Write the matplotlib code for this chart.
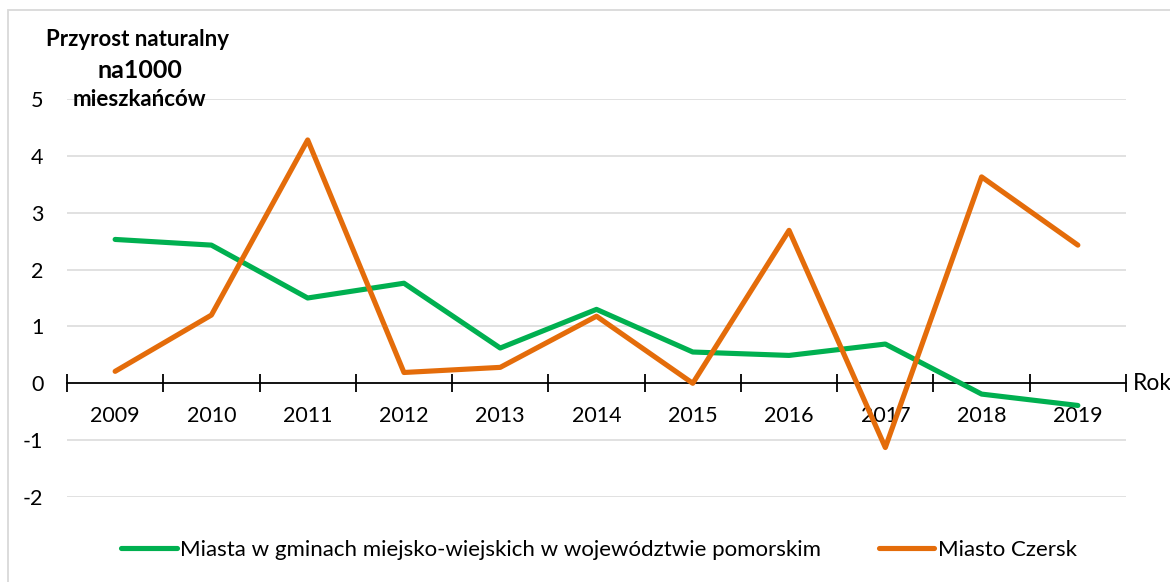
import matplotlib.pyplot as plt
from matplotlib.patches import Rectangle

plt.rcParams['font.family'] = ['Lato', 'DejaVu Sans']

years = ['2009', '2010', '2011', '2012', '2013', '2014', '2015', '2016', '2017', '2018', '2019']
miasta_pomorskie = [2.53, 2.43, 1.50, 1.76, 0.62, 1.30, 0.55, 0.49, 0.69, -0.19, -0.39]
czersk = [0.21, 1.20, 4.28, 0.19, 0.28, 1.18, 0.00, 2.69, -1.13, 3.63, 2.43]

green = '#00B050'
orange = '#E46C0A'

W, H = 1170, 582
fig = plt.figure(figsize=(W / 100, H / 100), dpi=100)
ax = fig.add_axes([67 / W, (H - 497) / H, (1126 - 67) / W, (497 - 99) / H])

x = list(range(len(years)))
ax.plot(x, miasta_pomorskie, color=green, lw=3.7, solid_capstyle='round',
        solid_joinstyle='round', label='Miasta w gminach miejsko-wiejskich w województwie pomorskim', zorder=3)
ax.plot(x, czersk, color=orange, lw=3.7, solid_capstyle='round',
        solid_joinstyle='round', label='Miasto Czersk', zorder=3)

ax.set_xlim(-0.5, len(years) - 0.5)
ax.set_ylim(-2, 5)

# gridlines except at zero (the category axis sits there)
for v in [-2, -1, 1, 2, 3, 4, 5]:
    ax.axhline(v, color='#D9D9D9', lw=1.1, zorder=1)

for s in ['top', 'right', 'left']:
    ax.spines[s].set_visible(False)
ax.spines['bottom'].set_position(('data', 0))
ax.spines['bottom'].set_color('black')
ax.spines['bottom'].set_linewidth(1.3)
ax.spines['bottom'].set_zorder(2)

ax.set_xticks([i - 0.5 for i in range(len(years) + 1)])
ax.set_xticklabels([])
ax.tick_params(axis='x', which='major', direction='inout', length=13, width=1.3, color='black')
ax.set_xticks(x, minor=True)
ax.set_xticklabels(years, minor=True, fontsize=15.5)
ax.tick_params(axis='x', which='minor', length=0, pad=16)

ax.set_yticks(range(-2, 6))
ax.set_yticklabels([str(v) for v in range(-2, 6)], fontsize=15.5)
ax.tick_params(axis='y', length=0, pad=17)

fig.text(1133 / W, (H - 383) / H, 'Rok', fontsize=16.5, va='center', ha='left')

fig.text(137 / W, (H - 40) / H, 'Przyrost naturalny', fontsize=16, fontweight='bold', ha='center', va='center')
fig.text(140 / W, (H - 70) / H, 'na1000', fontsize=18, fontweight='bold', ha='center', va='center')
fig.text(139 / W, (H - 100) / H, 'mieszkańców', fontsize=16, fontweight='bold', ha='center', va='center')

leg = fig.legend(loc='center', bbox_to_anchor=(599 / W, (H - 550) / H), ncol=2, frameon=False,
                 fontsize=16, handlelength=2.5, handletextpad=0.15, columnspacing=2.6)

fig.patches.append(Rectangle((8 / W, -0.1), 1.2, (H - 10) / H + 0.1, transform=fig.transFigure,
                             fill=False, edgecolor='#D9D9D9', lw=1.3))

fig.savefig('out.png', dpi=100)
